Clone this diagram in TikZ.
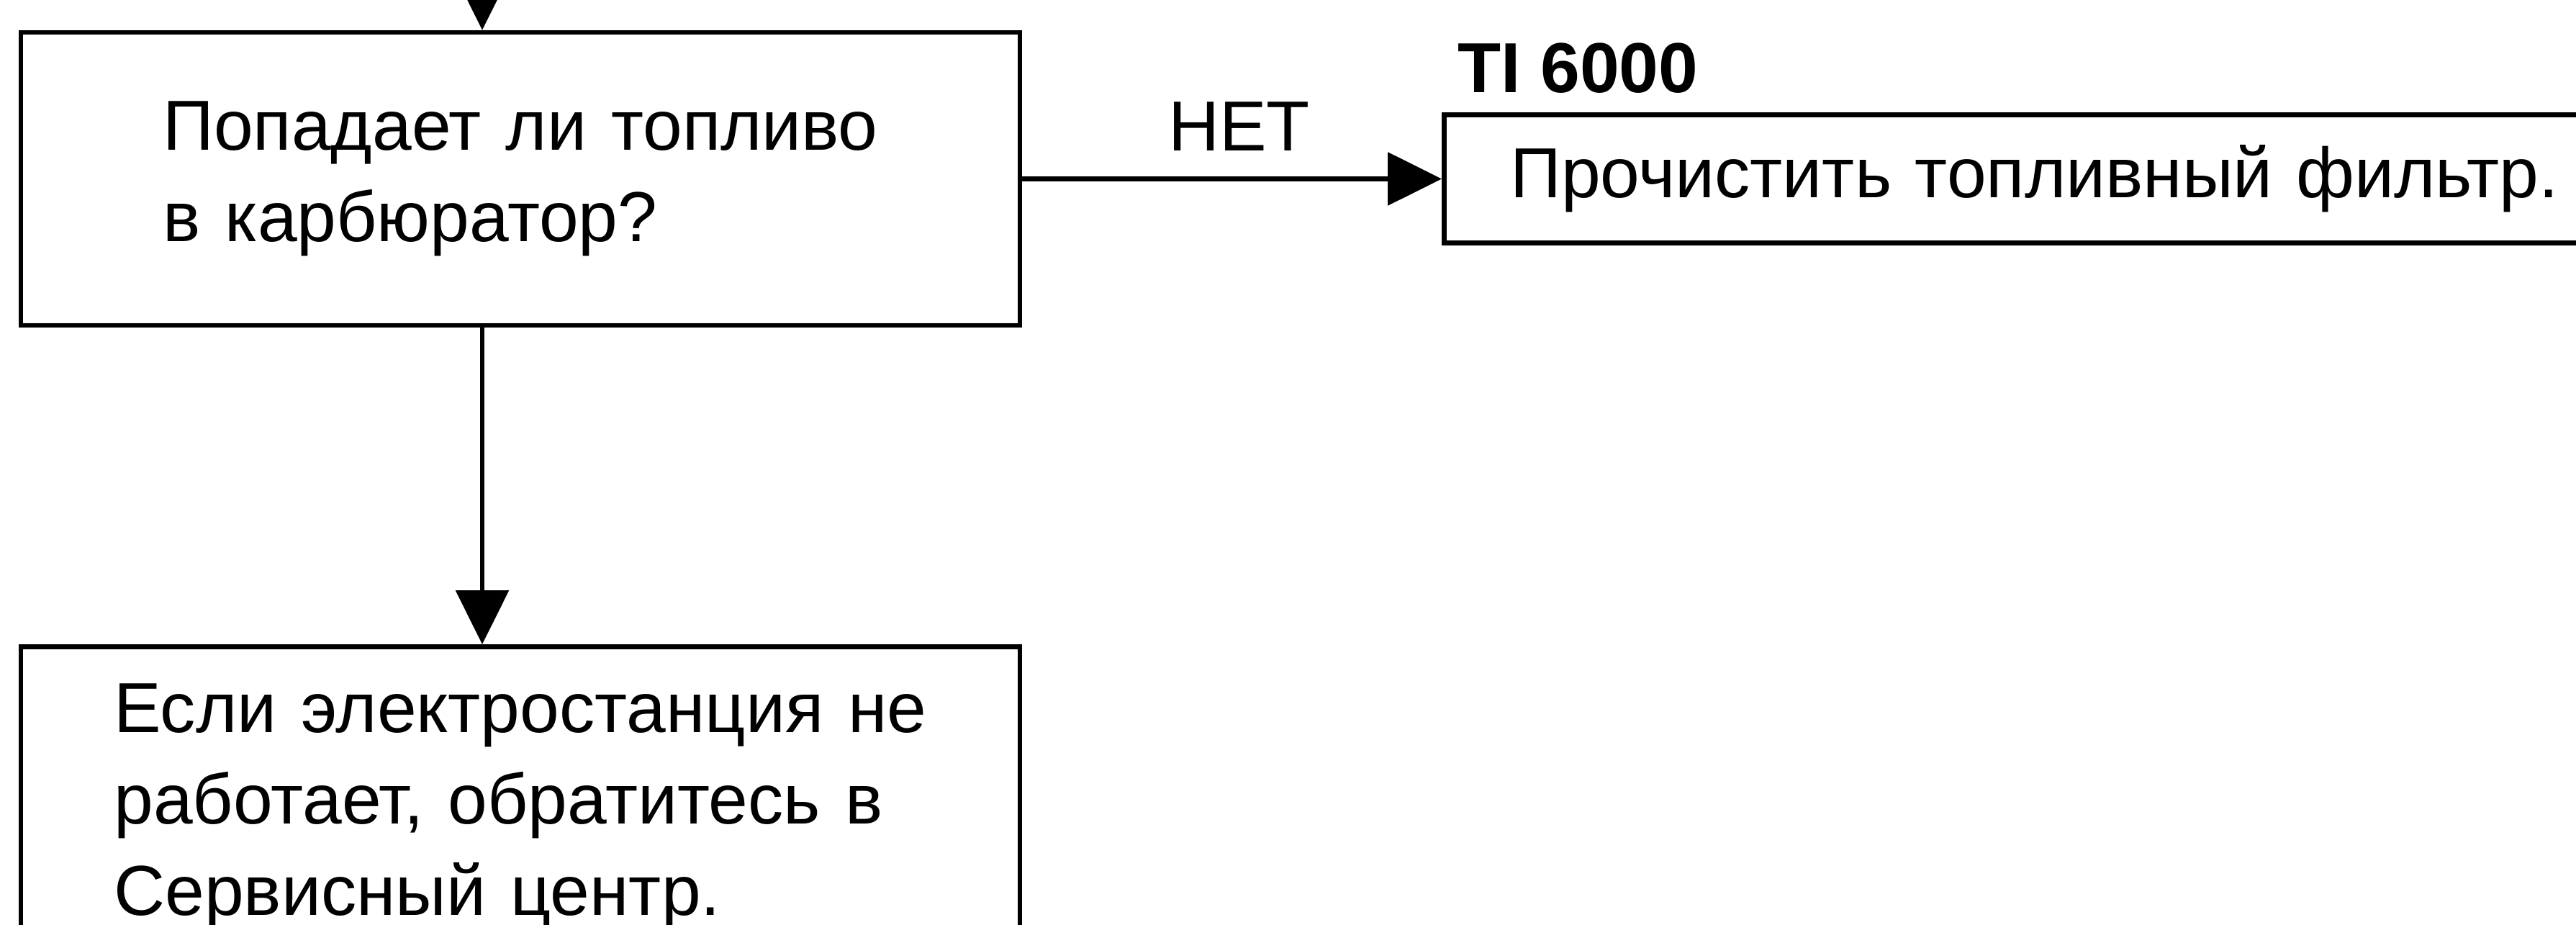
\documentclass[tikz,border=0pt]{standalone}
\usepackage{fontspec}
\setmainfont{Liberation Sans}
\newfontfamily\gapfont[WordSpace=1.25]{Liberation Sans}
\usetikzlibrary{arrows.meta, positioning, calc}

\begin{document}
\begin{tikzpicture}[
  box/.style={draw=black, line width=0.065cm, align=left},
  arr/.style={draw=black, line width=0.065cm, -{Triangle[length=0.75cm, width=0.73cm]}},
  txt/.style={font=\fontsize{28}{36}\selectfont},
  gaptxt/.style={font=\gapfont\fontsize{28}{36}\selectfont}
]
\useasboundingbox (0,0) rectangle (35.79,-12.85);
\clip (0,0) rectangle (35.79,-12.85);

% ===== Question box =====
\node[box, gaptxt, minimum width=13.88cm, minimum height=4.07cm] (fuel) at (7.23,-2.485)
  {Попадает ли топливо\\в карбюратор?};

% ===== Filter box =====
\node[box, txt, anchor=west, minimum height=1.78cm, inner xsep=0.92cm, text width=15cm] (filter)
  at (20.03,-2.485) {Прочистить топливный фильтр.};
\node[font=\bfseries\fontsize{28}{36}\selectfont, anchor=base west, inner sep=0pt] (model)
  at ($(filter.north west)+(0.22,0.28)$) {TI 6000};

% ===== Service box =====
\node[box, gaptxt, anchor=north, minimum width=13.88cm, inner ysep=0.52cm] (service)
  at (7.23,-8.95) {Если электростанция не\\работает, обратитесь в\\Сервисный центр.};

% Arrows
\coordinate (entry) at (6.70,0.9);
\draw[arr] (entry) -- (entry |- fuel.north);
\draw[arr] (fuel.east) -- (filter.west)
  node[txt, midway, above=0.36cm, inner sep=0pt, xshift=0.1cm] (no) {НЕТ};
\draw[arr] (entry |- fuel.south) -- (entry |- service.north);

\end{tikzpicture}
\end{document}
